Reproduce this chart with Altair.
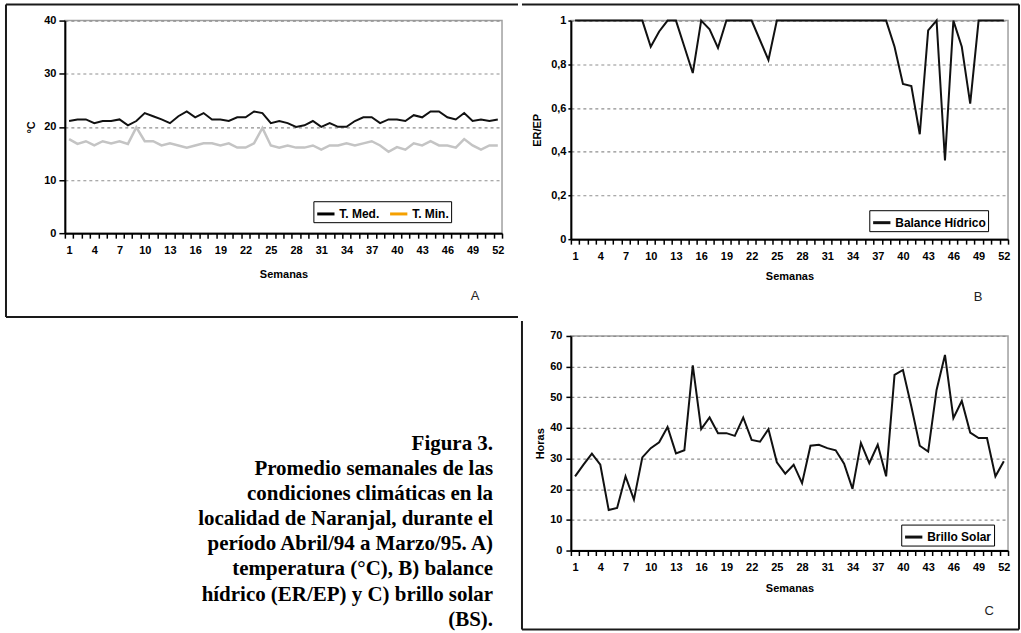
import altair as alt
import pandas as pd

weeks = list(range(1, 53))
t_med = [21.1, 21.4, 21.4, 20.7, 21.1, 21.1, 21.4, 20.3, 21.1, 22.6,
         22.0, 21.4, 20.7, 22.0, 22.9, 21.8, 22.6, 21.4, 21.4, 21.1,
         21.8, 21.8, 22.9, 22.6, 20.7, 21.1, 20.7, 20.0, 20.3, 21.1,
         20.0, 20.7, 20.0, 20.0, 21.1, 21.8, 21.8, 20.7, 21.4, 21.4,
         21.1, 22.2, 21.8, 22.9, 22.9, 21.8, 21.4, 22.6, 21.1, 21.4,
         21.1, 21.4]
t_min = [17.7, 16.8, 17.3, 16.5, 17.3, 16.9, 17.3, 16.8, 19.9, 17.3,
         17.3, 16.5, 16.9, 16.5, 16.1, 16.5, 16.9, 16.9, 16.5, 16.9,
         16.1, 16.1, 16.9, 19.8, 16.5, 16.1, 16.5, 16.1, 16.1, 16.5,
         15.7, 16.5, 16.5, 16.9, 16.5, 16.9, 17.3, 16.5, 15.3, 16.2,
         15.7, 16.9, 16.5, 17.3, 16.5, 16.5, 16.1, 17.7, 16.5, 15.7,
         16.5, 16.5]
balance = [1.0, 1.0, 1.0, 1.0, 1.0, 1.0, 1.0, 1.0, 1.0, 0.88,
           0.95, 1.0, 1.0, 0.88, 0.76, 1.0, 0.96, 0.875, 1.0, 1.0,
           1.0, 1.0, 0.91, 0.82, 1.0, 1.0, 1.0, 1.0, 1.0, 1.0,
           1.0, 1.0, 1.0, 1.0, 1.0, 1.0, 1.0, 1.0, 0.88, 0.71,
           0.70, 0.48, 0.955, 1.0, 0.36, 1.0, 0.88, 0.62, 1.0, 1.0,
           1.0, 1.0]
brillo = [24.2, 28.0, 31.6, 28.0, 13.2, 13.9, 24.2, 16.6, 30.4, 33.4,
          35.3, 40.3, 31.7, 32.7, 60.4, 39.6, 43.4, 38.3, 38.3, 37.4,
          43.4, 36.1, 35.5, 39.6, 28.8, 25.1, 28.0, 22.0, 34.2, 34.5,
          33.4, 32.7, 28.3, 20.1, 35.1, 28.5, 34.5, 24.2, 57.3, 58.9,
          47.0, 34.2, 32.3, 52.4, 63.8, 43.2, 48.8, 38.5, 36.7, 36.7,
          24.2, 29.1]

series_a = ["T. Med.", "T. Min."]
series_b = ["Balance Hídrico"]
series_c = ["Brillo Solar"]

caption_lines = [
    "Figura 3.",
    "Promedio semanales de las",
    "condiciones climáticas en la",
    "localidad de Naranjal, durante el",
    "período Abril/94 a Marzo/95. A)",
    "temperatura (°C), B) balance",
    "hídrico (ER/EP) y C) brillo solar",
    "(BS).",
]

df = pd.DataFrame({"Semana": weeks, "TMed": t_med, "TMin": t_min,
                   "BH": balance, "BS": brillo})
one = pd.DataFrame({"k": [0]})

FONT = "Liberation Sans"
FRAME = "#1a1a1a"


def xenc(title_pad):
    return alt.X(
        "Semana:O",
        scale=alt.Scale(type="band", paddingInner=0, paddingOuter=0),
        axis=alt.Axis(
            title="Semanas", tickBand="extent", labelAngle=0, labelOverlap=False,
            labelExpr="(datum.value - 1) % 3 == 0 ? datum.label : ''",
            tickSize=5, labelPadding=6, titlePadding=title_pad, grid=False,
        ),
    )


def yenc(field, title, domain, values, label_expr=None, tick=5, lpad=4, tpad=8):
    kw = dict(title=title, values=values, tickSize=tick, labelPadding=lpad,
              titlePadding=tpad, grid=True)
    if label_expr:
        kw["labelExpr"] = label_expr
    return alt.Y(f"{field}:Q", scale=alt.Scale(domain=domain, nice=False),
                 axis=alt.Axis(**kw))


def frame(segs):
    layers = []
    for (x1, y1, x2, y2) in segs:
        layers.append(
            alt.Chart(one).mark_rule(color=FRAME, strokeWidth=2).encode(
                x=alt.value(x1), x2=alt.value(x2), y=alt.value(y1), y2=alt.value(y2)
            )
        )
    return layers


def letter(txt, x, y):
    return alt.Chart(one).mark_text(font=FONT, fontSize=13, color="#222",
                                    align="center", baseline="middle").encode(
        x=alt.value(x), y=alt.value(y), text=alt.value(txt))


def legend(x, y, colpad=6):
    return alt.Legend(title=None, orient="none", legendX=x, legendY=y,
                      direction="horizontal", strokeColor="#000", fillColor="#fff",
                      padding=2, symbolType="stroke", symbolStrokeWidth=3,
                      symbolSize=300, labelFont=FONT, labelFontSize=12,
                      labelFontWeight="bold", labelColor="#000", columnPadding=colpad,
                      labelOffset=3, symbolOpacity=1)


# ---------- Panel A (plot origin at page 64,19) ----------
ya = dict(title="°C", domain=[0, 40], values=[0, 10, 20, 30, 40], tick=6, lpad=3, tpad=7)
base_a = alt.Chart(df)
a_med = base_a.mark_line(color="#111", strokeWidth=2).encode(
    x=xenc(13), y=yenc("TMed", **ya))
a_min = base_a.mark_line(color="#c4c4c4", strokeWidth=2.5).encode(
    x=xenc(13), y=yenc("TMin", **ya))
a_leg = base_a.transform_fold(["TMed", "TMin"], as_=["serie", "v"]).transform_filter(
    "false").mark_line().encode(
    x=xenc(13), y=yenc("v", **ya),
    color=alt.Color("serie:N", scale=alt.Scale(domain=series_a, range=["#000000", "#f5a000"]),
                    legend=legend(249, 181, 3)))
panel_a = alt.layer(
    a_min, a_med, a_leg,
    *frame([(-59, -16, 454, -16), (-59, -16, -59, 297), (-59, 297, 454, 297)]),
    letter("A", 411, 276),
).properties(width=438, height=213)

# ---------- Panel B (plot origin at page 569,19) ----------
b_label = ("datum.value == 0 ? '0' : datum.value == 1 ? '1' : "
           "replace(format(datum.value, '.1f'), '.', ',')")
b_line = alt.Chart(df).transform_calculate(serieB="'Balance Hídrico'").mark_line(
    strokeWidth=2).encode(
    x=xenc(9),
    y=yenc("BH", "ER/EP", [0, 1], [0, 0.2, 0.4, 0.6, 0.8, 1], b_label, tick=3, lpad=2, tpad=8),
    color=alt.Color("serieB:N", scale=alt.Scale(domain=series_b, range=["#111111"]),
                    legend=legend(299, 190)))
panel_b = alt.layer(
    b_line,
    *frame([(-49, -16, 449, -16), (449, -16, 449, 301)]),
    letter("B", 408, 277),
).properties(width=438, height=219)

# ---------- Panel C (plot origin at page 569,336) ----------
c_line = alt.Chart(df).transform_calculate(serieC="'Brillo Solar'").mark_line(
    strokeWidth=2).encode(
    x=xenc(10),
    y=yenc("BS", "Horas", [0, 70], list(range(0, 71, 10)), tick=5, lpad=4, tpad=4),
    color=alt.Color("serieC:N", scale=alt.Scale(domain=series_c, range=["#111111"]),
                    legend=legend(331, 189)))
panel_c = alt.layer(
    c_line,
    *frame([(-49, -15, -49, 294), (-49, 294, 449, 294), (449, -15, 449, 294)]),
    letter("C", 419, 276),
).properties(width=438, height=215)

# ---------- Caption (origin shared with panel A column / panel C row) ----------
caption = alt.Chart(one).mark_text(
    font="Liberation Serif", fontSize=21, fontWeight="bold", color="#000",
    align="right", baseline="top", lineHeight=25.1, lineBreak="\n",
).encode(x=alt.value(429), y=alt.value(97.5), text=alt.value("\n".join(caption_lines))
).properties(width=430, height=280, view=alt.ViewBackground(stroke="transparent"))

chart = alt.concat(panel_a, panel_b, caption, panel_c, columns=2,
                   spacing={"row": -4, "column": 0}).resolve_scale(
    color="independent"
).properties(
    padding={"left": 4, "top": 2, "right": 0, "bottom": 0},
    background="#ffffff",
).configure_axis(
    labelFont=FONT, labelFontWeight="bold", labelFontSize=11, labelColor="#000",
    titleFont=FONT, titleFontWeight="bold", titleFontSize=11, titleColor="#000",
    domainColor="#000", domainWidth=2, tickColor="#000", tickWidth=1.5,
    gridColor="#8f8f8f", gridDash=[3, 3], gridWidth=1.2,
).configure_view(stroke="#a0a0a0", strokeWidth=1.5)

chart.save("out.html", embed_options={"renderer": "svg", "actions": False})
